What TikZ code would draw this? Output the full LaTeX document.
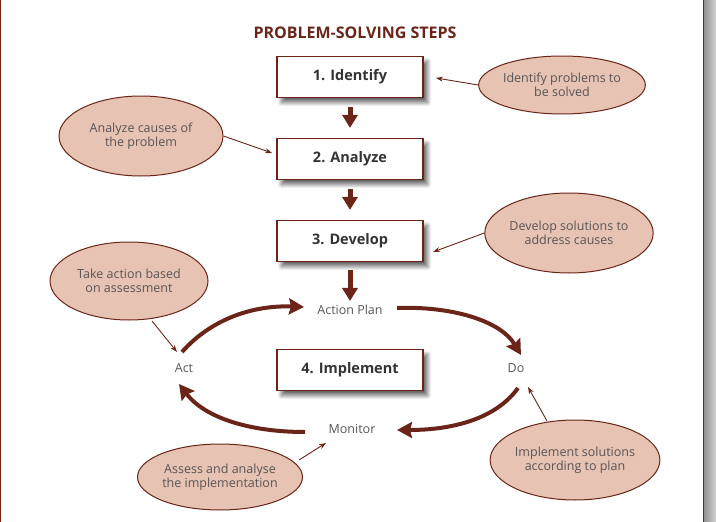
\documentclass[tikz,border=0pt]{standalone}
\usepackage{fontspec}
\setmainfont{Open Sans}
\usetikzlibrary{arrows.meta,shapes.geometric,shadows.blur}
\definecolor{brn}{HTML}{6B2518}
\definecolor{efill}{HTML}{E6C3B3}
\definecolor{etext}{HTML}{5A5555}
\definecolor{btext}{HTML}{333333}
\begin{document}
\begin{tikzpicture}[x=1pt,y=-1pt,
 stepbox/.style={draw=brn,line width=1.2pt,fill=white,minimum width=146pt,minimum height=41pt,inner sep=0pt,
   font=\fontsize{14.5}{17}\selectfont\bfseries,text=btext,
   blur shadow={shadow xshift=4.5pt,shadow yshift=-5pt,shadow blur steps=8,shadow blur radius=4pt,shadow opacity=60}},
 note/.style={ellipse,draw=brn,line width=1pt,fill=efill,inner sep=0pt,text=etext,
   font=\fontsize{12.5}{14}\selectfont,align=center},
 cyc/.style={text=etext,font=\fontsize{12.5}{14}\selectfont,inner sep=1pt},
 thinarr/.style={draw=brn,line width=0.9pt,-{Stealth[length=7pt,width=5pt]}},
 bigarr/.style={draw=brn,line width=5pt,-{Triangle[length=13pt,width=15pt]}},
 cycarr/.style={draw=brn,line width=4pt,-{Stealth[length=15pt,width=16pt,inset=2pt]}}]
\useasboundingbox (0,0) rectangle (716,522);
% frame
\fill[left color=gray!85,right color=gray!35] (704,0) rectangle (716,522);
\draw[brn,line width=1.2pt] (0.6,0) -- (0.6,522);
\draw[brn,line width=1pt] (703.5,0) -- (703.5,522);
% title
\node[text=brn,font=\fontsize{16}{19}\selectfont\bfseries] (title) at (355,33) {PROBLEM-SOLVING STEPS};
% boxes
\node[stepbox] (b1) at (350,77) {1. Identify};
\node[stepbox] (b2) at (350,159) {2. Analyze};
\node[stepbox] (b3) at (350,241) {3. Develop};
\node[stepbox] (b4) at (350,370) {4. Implement};
% cycle labels
\node[cyc] (ap) at (350,310) {Action Plan};
\node[cyc] (act) at (184,368) {Act};
\node[cyc] (do) at (516,368) {Do};
\node[cyc] (mon) at (352,429) {Monitor};
% vertical arrows
\draw[bigarr,shorten <=9pt,shorten >=10pt] (b1.south) -- (b2.north);
\draw[bigarr,shorten <=9pt,shorten >=10pt] (b2.south) -- (b3.north);
\draw[bigarr,shorten <=8pt,shorten >=3pt] (b3.south) -- (ap.north);
% cycle arrows
\coordinate (c1) at (182,352);
\coordinate (c2) at (304,307);
\coordinate (c3) at (397,308);
\coordinate (c4) at (521,355);
\coordinate (c5) at (518,388);
\coordinate (c6) at (397,430);
\coordinate (c7) at (305,432);
\coordinate (c8) at (179,384);
\draw[cycarr] (c1) .. controls (212,318) and (255,305) .. (c2);
\draw[cycarr] (c3) .. controls (450,306) and (500,320) .. (c4);
\draw[cycarr] (c5) .. controls (495,420) and (450,430) .. (c6);
\draw[cycarr] (c7) .. controls (250,432) and (205,418) .. (c8);
% notes
\node[note,minimum width=165pt,minimum height=58pt] (e1) at (562,85) {Identify problems to\\be solved};
\node[note,minimum width=164pt,minimum height=80pt] (e2) at (141,136) {Analyze causes of\\the problem};
\node[note,minimum width=166pt,minimum height=80pt] (e3) at (569,233) {Develop solutions to\\address causes};
\node[note,minimum width=158pt,minimum height=78pt] (e4) at (129,281) {Take action based\\on assessment};
\node[note,minimum width=165pt,minimum height=66pt] (e5) at (220,477) {Assess and analyse\\the implementation};
\node[note,minimum width=164pt,minimum height=80pt] (e6) at (575,460) {Implement solutions\\according to plan};
% note connectors
\coordinate (t1) at (436,78);
\coordinate (t2) at (272,153);
\coordinate (t3) at (433,252);
\coordinate (t4) at (177,352);
\coordinate (t5) at (326,443);
\coordinate (t6) at (528,387);
\draw[thinarr] (e1.west) -- (t1);
\draw[thinarr] (e2.east) -- (t2);
\draw[thinarr] (e3.west) -- (t3);
\draw[thinarr] (e4) ++(23,40) -- (t4);
\draw[thinarr] (e5) ++(79,-17) -- (t5);
\draw[thinarr] (e6) ++(-28,-39) -- (t6);
\end{tikzpicture}
\end{document}
